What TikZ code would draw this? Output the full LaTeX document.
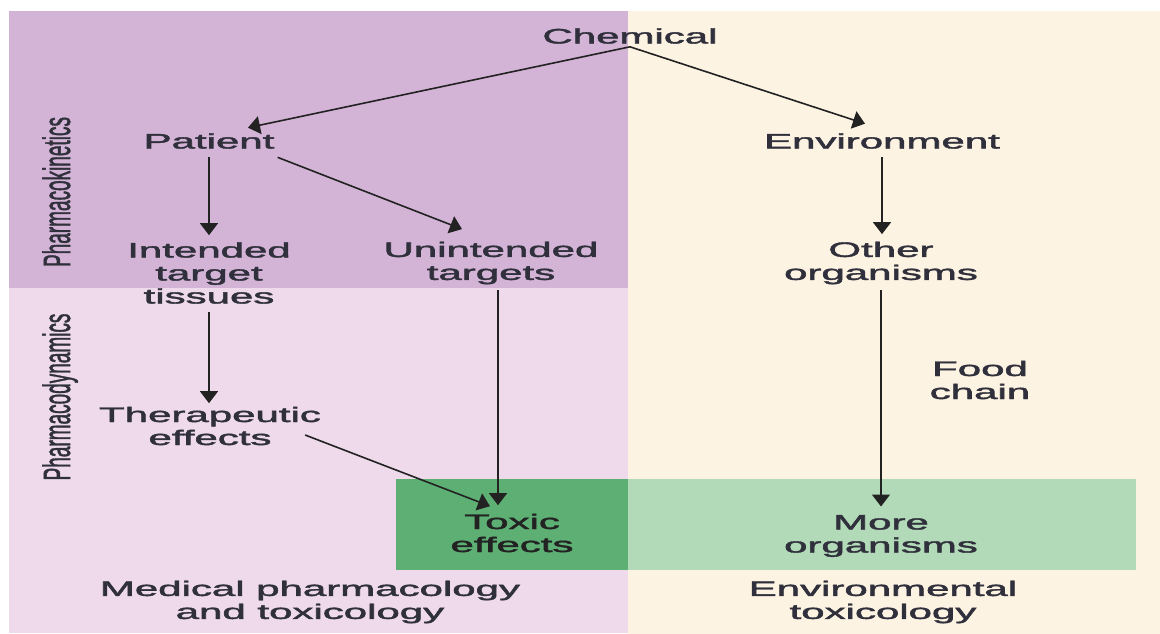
\documentclass[tikz,border=0pt]{standalone}
\usepackage{fontspec}
\setmainfont{Liberation Sans}
\newfontfamily\heavysans{Liberation Sans}[FakeBold=1.6]
\usetikzlibrary{arrows.meta}
\definecolor{kinetic}{RGB}{211,180,214}
\definecolor{dynamic}{RGB}{238,218,235}
\definecolor{enviro}{RGB}{253,243,226}
\definecolor{toxgreen}{RGB}{94,175,116}
\definecolor{moregreen}{RGB}{178,218,184}
\definecolor{txt}{RGB}{48,48,60}
\definecolor{ink}{RGB}{34,34,34}
\begin{document}
\begin{tikzpicture}[x=1pt,y=-1pt,
  lbl/.style={inner sep=0pt,yscale=0.5,align=center,text=txt,font=\heavysans\fontsize{42}{46}\selectfont},
  side/.style={inner sep=0pt,yscale=0.5,rotate=90,anchor=base,text=txt,font=\heavysans\fontsize{38}{42}\selectfont},
  arr/.style={draw=ink,line width=1.6pt,-{Triangle[length=12pt,width=18pt]}}]
  \useasboundingbox (0,0) rectangle (1160,634);
  \fill[kinetic] (9,11) rectangle (628,288);
  \fill[dynamic] (9,288) rectangle (628,633);
  \fill[enviro] (628,11) rectangle (1160,634);
  \fill[toxgreen] (396,479) rectangle (628,570);
  \fill[moregreen] (628,479) rectangle (1136,570);

  \node[lbl] (chem) at (630,36) {Chemical};
  \node[lbl] (patient) at (209,141) {Patient};
  \node[lbl] (env) at (882,141) {Environment};
  \node[lbl] (intended) at (209,273) {Intended\\target\\tissues};
  \node[lbl] (unintended) at (491,263) {Unintended\\targets};
  \node[lbl] (other) at (881,263) {Other\\organisms};
  \node[lbl] (therapeutic) at (210,426) {Therapeutic\\effects};
  \node[lbl,text=ink] (toxic) at (512,533) {Toxic\\effects};
  \node[lbl] (more) at (881,536) {More\\organisms};
  \node[lbl] (food) at (980,380) {Food\\chain};
  \node[lbl] (medical) at (310,602) {Medical pharmacology\\and toxicology};
  \node[lbl] (envtox) at (883,602) {Environmental\\toxicology};
  \node[side] (kinetics) at (70,192) {Pharmacokinetics};
  \node[side] (dynamics) at (70,397) {Pharmacodynamics};

  \draw[arr] ([yshift=-3pt]chem.south) -- ([xshift=39pt,yshift=5.5pt]patient.north);
  \draw[arr] ([yshift=-3pt]chem.south) -- ([xshift=-17pt,yshift=9.5pt]env.north);
  \draw[arr,shorten <=8pt,shorten >=7pt] (patient.south) -- (patient.south |- intended.north);
  \draw[arr] ([xshift=3pt,yshift=-8.5pt]patient.south east) -- ([xshift=-29pt,yshift=12.5pt]unintended.north);
  \draw[arr,shorten <=8pt,shorten >=3.5pt] (intended.south) -- (intended.south |- therapeutic.north);
  \draw[arr,shorten <=6pt,shorten >=8.5pt] ([xshift=7pt]unintended.south) -- ([xshift=-14pt]toxic.north);
  \draw[arr] ([xshift=-16pt,yshift=-9pt]therapeutic.east) -- ([xshift=-22pt,yshift=7.5pt]toxic.north);
  \draw[arr,shorten <=8.5pt,shorten >=7.5pt] (env.south) -- (env.south |- other.north);
  \draw[arr,shorten <=6pt,shorten >=8.5pt] (other.south) -- (other.south |- more.north);
\end{tikzpicture}
\end{document}
